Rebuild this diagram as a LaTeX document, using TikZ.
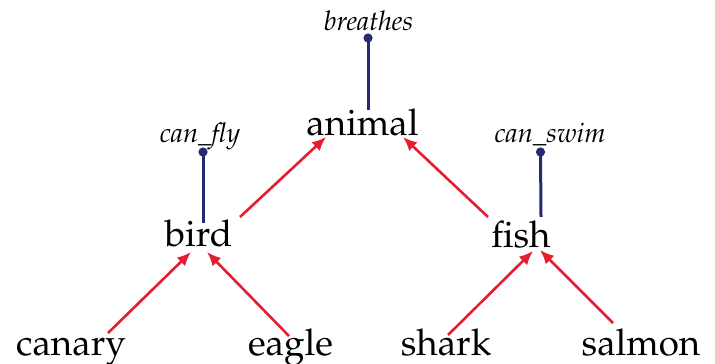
\documentclass[tikz,border=0pt]{standalone}
\usepackage[T1]{fontenc}
\usepackage{mathpazo}
\usetikzlibrary{arrows.meta,positioning}

\definecolor{isared}{RGB}{228,30,48}
\definecolor{propblue}{RGB}{40,42,112}

\tikzset{
	concept/.style={inner sep=0pt, anchor=base, font=\fontsize{18.4}{22}\selectfont},
	prop/.style={inner sep=0pt, anchor=base, font=\fontsize{13.6}{16}\selectfont\itshape},
	propdot/.style={circle, fill=propblue, inner sep=0pt, minimum size=4.6pt},
	isa/.style={draw=isared, line width=1.3pt, -{Latex[length=7pt,width=6pt]}},
	has/.style={draw=propblue, line width=1.5pt}
}

\begin{document}
\begin{tikzpicture}[x=0.5pt, y=-0.5pt]
			\useasboundingbox (0,0) rectangle (715,363);
			\node[concept] (animal) at (362.5,135) {animal};
			\node[concept] (bird) at (198.5,246) {bird};
			\node[concept] (fish) at (521,247) {fish};
			\node[concept] (canary) at (71,355) {canary};
			\node[concept] (eagle) at (290.5,355) {eagle};
			\node[concept] (shark) at (446,355) {shark};
			\node[concept] (salmon) at (641,355) {salmon};
			\node[prop] (breathes) at (368.5,31) {breathes};
			\node[prop] (canfly) at (200,142) {can\_fly};
			\node[prop] (canswim) at (550,142) {can\_swim};
			\node[propdot] (breathesdot) at (368,38) {};
			\node[propdot] (canflydot) at (203,152) {};
			\node[propdot] (canswimdot) at (540.5,152) {};
			\draw[has] (breathesdot.center) -- ([shift={(5.5,-25)}]animal.base);
			\draw[has] (canflydot.center) -- ([shift={(4.5,-23)}]bird.base);
			\draw[has] (canswimdot.center) -- ([shift={(20,-30)}]fish.base);
			\draw[isa] ([shift={(41.5,-29)}]bird.base) -- ([shift={(-36.5,2)}]animal.base);
			\draw[isa] ([shift={(-33,-30)}]fish.base) -- ([shift={(40.5,2)}]animal.base);
			\draw[isa] ([shift={(37,-22)}]canary.base) -- ([shift={(-7.5,6)}]bird.base);
			\draw[isa] ([shift={(-1.5,-19)}]eagle.base) -- ([shift={(8.5,6)}]bird.base);
			\draw[isa] ([shift={(2,-20)}]shark.base) -- ([shift={(12,4)}]fish.base);
			\draw[isa] ([shift={(-28,-32)}]salmon.base) -- ([shift={(19,3)}]fish.base);
		\end{tikzpicture}
\end{document}
